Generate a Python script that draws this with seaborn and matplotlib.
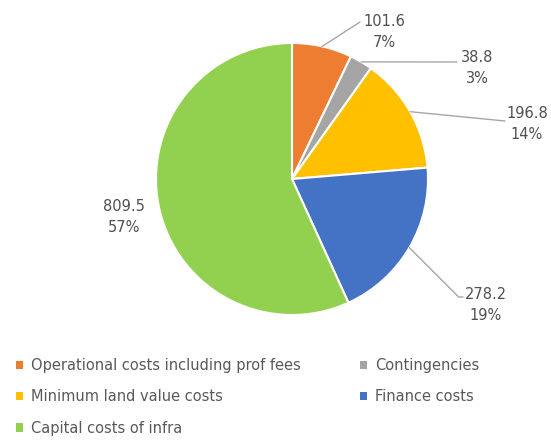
import matplotlib
matplotlib.use("Agg")
import matplotlib.pyplot as plt
from matplotlib.patches import Patch
import numpy as np
import seaborn as sns

# Data
categories = ["Operational costs including prof fees", "Contingencies",
              "Minimum land value costs", "Finance costs", "Capital costs of infra"]
values = [101.6, 38.8, 196.8, 278.2, 809.5]
pct_labels = ["7%", "3%", "14%", "19%", "57%"]
colors = ["#ED7D31", "#A5A5A5", "#FFC000", "#4472C4", "#92D050"]

sns.set_theme(style="white")
plt.rcParams['font.family'] = ['DejaVu Sans']

W, H = 551, 441
fig = plt.figure(figsize=(W / 100, H / 100), dpi=100)

# pie geometry in pixels (from top-left)
cx, cy, R = 292, 179, 136
ax = fig.add_axes([(cx - R) / W, (H - cy - R) / H, 2 * R / W, 2 * R / H])

wedges, _ = ax.pie(values, colors=colors, startangle=90, counterclock=False,
                   radius=1, wedgeprops=dict(edgecolor="white", linewidth=1.5))
ax.set_xlim(-1, 1)
ax.set_ylim(-1, 1)
ax.set_aspect("equal")
ax.axis("off")


def px(x, y):
    # pixel position -> data coords of the pie axes
    return (x - cx) / R, (cy - y) / R


# label centre positions and leader-line ends (pixels)
label_pos = [(384, 32), (477, 68), (527, 124), (486, 305), (124, 217)]
line_end = [(360, 22), (457, 62), (505, 121), (463, 297), None]
line_style = ["arc3", "arc3", "arc3", "angle,angleA=0,angleB=-45,rad=0", None]

for i, w in enumerate(wedges):
    mid = np.deg2rad((w.theta1 + w.theta2) / 2)
    if line_end[i] is not None:
        ax.annotate("", xy=(np.cos(mid), np.sin(mid)), xytext=px(*line_end[i]),
                    arrowprops=dict(arrowstyle="-", color="#A6A6A6", lw=1,
                                    connectionstyle=line_style[i],
                                    shrinkA=0, shrinkB=0),
                    annotation_clip=False)
    ax.text(*px(*label_pos[i]), f"{values[i]}\n{pct_labels[i]}", ha="center", va="center",
            fontsize=10.5, color="#505050", linespacing=1.5, clip_on=False)

handles = [Patch(facecolor=c, edgecolor="none") for c in colors]
order = [0, 2, 4, 1, 3]
fig.legend([handles[i] for i in order], [categories[i] for i in order],
           loc="upper left", bbox_to_anchor=(16 / W, (H - 358) / H), ncol=2,
           frameon=False, fontsize=10.5, labelcolor="#595959",
           handlelength=0.5, handleheight=0.5, handletextpad=0.5,
           labelspacing=1.12, columnspacing=4.1, borderpad=0, borderaxespad=0)

fig.savefig("out.png", dpi=100, facecolor="white")
